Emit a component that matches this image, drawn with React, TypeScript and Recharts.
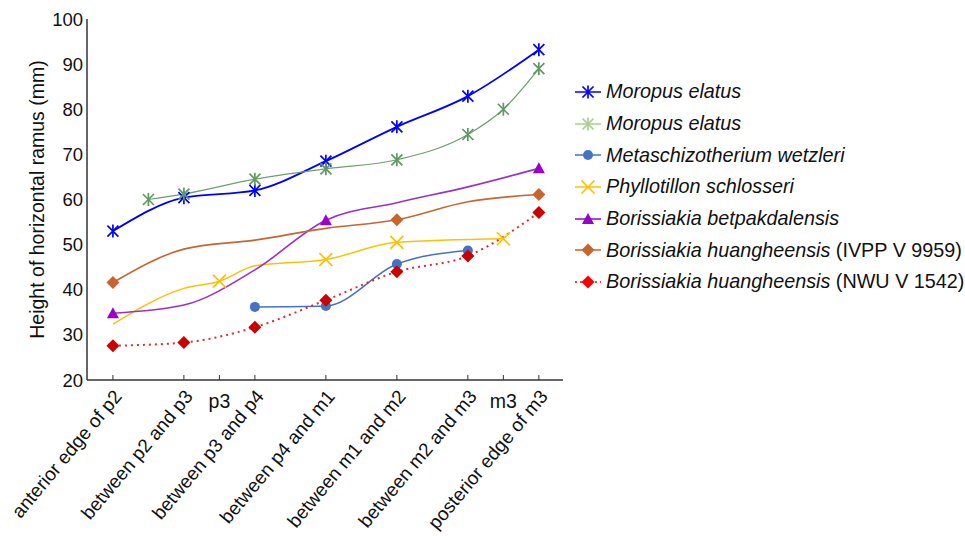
import React from "react";
import { LineChart, Line, XAxis, YAxis } from "recharts";

// tooth positions along the jaw (x = position index)
const xTicks = [0, 2, 3, 4, 6, 8, 10, 11, 12];
const xTickLabels = [
  "anterior edge of p2",
  "between p2 and p3",
  "p3",
  "between p3 and p4",
  "between p4 and m1",
  "between m1 and m2",
  "between m2 and m3",
  "m3",
  "posterior edge of m3",
];
const yTicks = [20, 30, 40, 50, 60, 70, 80, 90, 100];

const moropusAX = [0, 2, 4, 6, 8, 10, 12];
const moropusAY = [53.0, 60.4, 62.0, 68.5, 76.1, 82.9, 93.2];

const moropusBX = [1, 2, 4, 6, 8, 10, 11, 12];
const moropusBY = [60.0, 61.2, 64.5, 66.8, 68.8, 74.4, 80.0, 89.0];

const metaX = [4, 6, 8, 10];
const metaY = [36.2, 36.4, 45.7, 48.7];

const phylloX = [0, 2, 3, 4, 6, 8, 11];
const phylloY = [32.4, 40.3, 41.9, 45.3, 46.7, 50.5, 51.3];
const phylloMark = [false, false, true, false, true, true, true];

const betpakX = [0, 2, 4, 6, 8, 10, 12];
const betpakY = [34.8, 36.6, 44.4, 55.4, 59.3, 62.8, 66.9];
const betpakMark = [true, false, false, true, false, false, true];

const ivppX = [0, 2, 4, 6, 8, 10, 12];
const ivppY = [41.6, 49.0, 51.0, 53.6, 55.5, 59.5, 61.1];
const ivppMark = [true, false, false, false, true, false, true];

const nwuX = [0, 2, 4, 6, 8, 10, 12];
const nwuY = [27.6, 28.3, 31.7, 37.7, 44.0, 47.5, 57.1];

const zip = (xs: number[], ys: number[], marks?: boolean[]) =>
  xs.map((x, i) => ({ x, y: ys[i], mark: marks ? marks[i] : true }));

const FONT = "Arial, 'Liberation Sans', sans-serif";

const Marker = ({ shape, color, cx, cy, sw = 1.7 }: any) => {
  const s = 5.5;
  switch (shape) {
    case "star":
      return (
        <g stroke={color} strokeWidth={sw}>
          <line x1={cx - s} y1={cy - s} x2={cx + s} y2={cy + s} />
          <line x1={cx - s} y1={cy + s} x2={cx + s} y2={cy - s} />
          <line x1={cx} y1={cy - s - 1} x2={cx} y2={cy + s + 1} />
        </g>
      );
    case "x":
      return (
        <g stroke={color} strokeWidth={sw}>
          <line x1={cx - s - 1} y1={cy - s - 1} x2={cx + s + 1} y2={cy + s + 1} />
          <line x1={cx - s - 1} y1={cy + s + 1} x2={cx + s + 1} y2={cy - s - 1} />
        </g>
      );
    case "circle":
      return <circle cx={cx} cy={cy} r={5} fill={color} />;
    case "triangle":
      return (
        <polygon
          points={`${cx},${cy - 6} ${cx + 6},${cy + 5} ${cx - 6},${cy + 5}`}
          fill={color}
        />
      );
    default:
      return (
        <polygon
          points={`${cx},${cy - 6.5} ${cx + 6.5},${cy} ${cx},${cy + 6.5} ${cx - 6.5},${cy}`}
          fill={color}
        />
      );
  }
};

const makeDot = (shape: string, color: string) => (props: any) => {
  const { cx, cy, payload, index } = props;
  if (!payload || !payload.mark || cx == null) return <g key={`d-${index}`} />;
  return (
    <g key={`d-${index}`}>
      <Marker shape={shape} color={color} cx={cx} cy={cy} />
    </g>
  );
};

const XTick = ({ x, y, payload }: any) => {
  const idx = xTicks.indexOf(payload.value);
  const label = xTickLabels[idx] || "";
  const short = label.length <= 3;
  return (
    <g>
      <line x1={x} x2={x} y1={y - 5} y2={y} stroke="#333" strokeWidth={1} />
      {short ? (
        <text x={x} y={y + 28} textAnchor="middle" fontSize={19.5} fontFamily={FONT} fill="#111">
          {label}
        </text>
      ) : (
        <text
          transform={`translate(${x + 10},${y + 17}) rotate(-50)`}
          textAnchor="end"
          fontSize={19}
          fontFamily={FONT}
          fill="#111"
        >
          {label}
        </text>
      )}
    </g>
  );
};

const YLabel = ({ viewBox }: any) => {
  const cx = viewBox.x + 37;
  const cy = viewBox.y + viewBox.height / 2;
  return (
    <text
      transform={`translate(${cx},${cy}) rotate(-90)`}
      textAnchor="middle"
      dominantBaseline="central"
      fontSize={19.5}
      fontFamily={FONT}
      fill="#111"
    >
      Height of horizontal ramus (mm)
    </text>
  );
};

const series = [
  { name: "Moropus elatus", extra: "", data: zip(moropusAX, moropusAY), color: "#0000FF", legendColor: "#0000FF", shape: "star", width: 1.8, dash: undefined },
  { name: "Moropus elatus", extra: "", data: zip(moropusBX, moropusBY), color: "#6E9F6E", legendColor: "#A9D18E", shape: "star", width: 1.2, dash: undefined },
  { name: "Metaschizotherium wetzleri", extra: "", data: zip(metaX, metaY), color: "#4472C4", legendColor: "#4472C4", shape: "circle", width: 1.5, dash: undefined },
  { name: "Phyllotillon schlosseri", extra: "", data: zip(phylloX, phylloY, phylloMark), color: "#FFC000", legendColor: "#FFC000", shape: "x", width: 1.5, dash: undefined },
  { name: "Borissiakia betpakdalensis", extra: "", data: zip(betpakX, betpakY, betpakMark), color: "#9A2FD0", legendColor: "#9900CC", shape: "triangle", width: 1.6, dash: undefined },
  { name: "Borissiakia huangheensis", extra: " (IVPP V 9959)", data: zip(ivppX, ivppY, ivppMark), color: "#C8652E", legendColor: "#C8652E", shape: "diamond", width: 1.6, dash: undefined },
  { name: "Borissiakia huangheensis", extra: " (NWU V 1542)", data: zip(nwuX, nwuY), color: "#E22B2B", legendColor: "#FF0000", shape: "diamond", width: 2, dash: "2 4" },
];
const markerColors = ["#0000FF", "#5E995E", "#4472C4", "#FFC000", "#9900CC", "#C8652E", "#CC0000"];

export default function App() {
  return (
    <div style={{ position: "absolute", left: 0, top: 0, width: 965, height: 536, background: "#fff" }}>
      <LineChart
        width={965}
        height={536}
        margin={{ top: 19, right: 402, bottom: 0, left: 0 }}
      >
        <XAxis
          dataKey="x"
          type="number"
          domain={[-0.73, 12.68]}
          ticks={xTicks}
          allowDataOverflow
          height={156}
          tickSize={0}
          tickMargin={0}
          tickLine={false}
          axisLine={{ stroke: "#333", strokeWidth: 1.5 }}
          tick={<XTick />}
          interval={0}
        />
        <XAxis
          xAxisId="top"
          orientation="top"
          type="number"
          domain={[-0.73, 12.68]}
          height={0}
          tick={false}
          tickLine={false}
          axisLine={{ stroke: "#333", strokeWidth: 1.5 }}
        />
        <YAxis
          type="number"
          domain={[20, 100]}
          ticks={yTicks}
          width={87}
          tickSize={0}
          tickMargin={4}
          tickLine={false}
          axisLine={{ stroke: "#333", strokeWidth: 1.5 }}
          tick={{ fontSize: 18.5, fontFamily: FONT, fill: "#111" }}
          label={<YLabel />}
          interval={0}
        />
        <YAxis
          yAxisId="right"
          orientation="right"
          type="number"
          domain={[20, 100]}
          width={0}
          tick={false}
          tickLine={false}
          axisLine={{ stroke: "#333", strokeWidth: 1.5 }}
        />
        {series.map((s, i) => (
          <Line
            key={`s-${i}`}
            data={s.data}
            dataKey="y"
            type="monotone"
            stroke={s.color}
            strokeWidth={s.width}
            strokeDasharray={s.dash}
            dot={makeDot(s.shape, markerColors[i])}
            activeDot={false}
            isAnimationActive={false}
          />
        ))}
      </LineChart>
      <div style={{ position: "absolute", left: 574, top: 76, fontFamily: FONT, fontSize: 19.8, color: "#111" }}>
        {series.map((s, i) => (
          <div key={`l-${i}`} style={{ display: "flex", alignItems: "center", height: 31.7 }}>
            <svg width={28} height={16} style={{ marginRight: 4 }}>
              <line x1={1} x2={27} y1={8} y2={8} stroke={s.legendColor} strokeWidth={1.5} strokeDasharray={s.dash ? "2 3" : undefined} />
              <Marker shape={s.shape} color={s.legendColor} cx={14} cy={8} />
            </svg>
            <span style={{ whiteSpace: "nowrap" }}>
              <i>{s.name}</i>
              {s.extra}
            </span>
          </div>
        ))}
      </div>
    </div>
  );
}
